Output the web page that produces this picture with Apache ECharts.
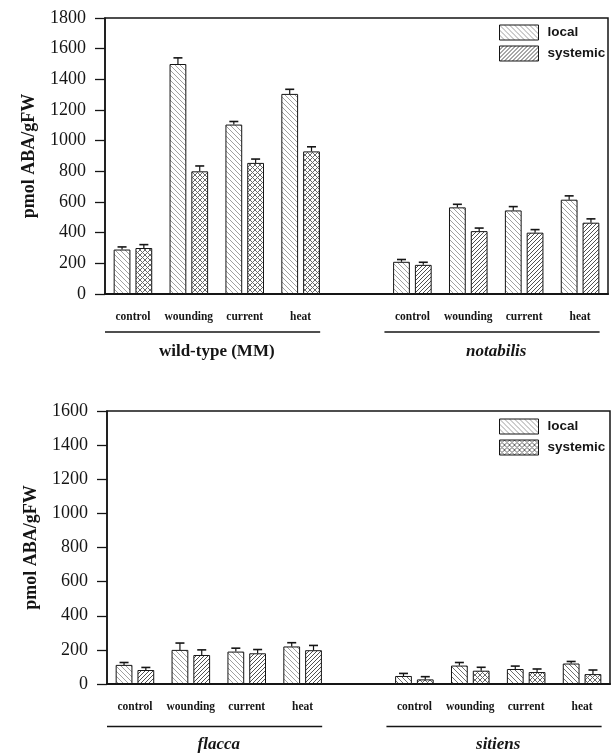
<!DOCTYPE html>
<html>
<head>
<meta charset="utf-8">
<script src="https://cdn.jsdelivr.net/npm/echarts@6/dist/echarts.min.js"></script>
<style>
html,body{margin:0;padding:0;background:#fff;}
#chart{width:616px;height:753px;}
</style>
</head>
<body>
<div id="chart"></div>
<script>
// ---------- data ----------
const categories = ['control', 'wounding', 'current', 'heat', '', 'control', 'wounding', 'current', 'heat'];
const topGroups = ['wild-type (MM)', 'notabilis'];
const bottomGroups = ['flacca', 'sitiens'];
const groupRanges = [[0, 3], [5, 8]];
const seriesNames = ['local', 'systemic'];

const topLocal       = [290, 1500, 1105, 1305, null, 210, 565, 545, 615];
const topLocalErr    = [17, 40, 20, 30, null, 15, 20, 25, 25];
const topSystemic    = [300, 800, 855, 930, null, 190, 410, 400, 465];
const topSystemicErr = [22, 35, 25, 30, null, 17, 20, 20, 25];

const bottomLocal       = [112, 200, 190, 220, null, 47, 108, 88, 120];
const bottomLocalErr    = [14, 40, 20, 22, null, 15, 18, 17, 12];
const bottomSystemic    = [82, 170, 180, 198, null, 27, 78, 70, 58];
const bottomSystemicErr = [15, 30, 22, 28, null, 16, 20, 18, 24];

const topYTicks = [0, 1800, 200];     // min, max, interval
const bottomYTicks = [0, 1600, 200];

// ---------- styles ----------
const SERIF = '"Liberation Serif", "DejaVu Serif", serif';
const SANS = '"Liberation Sans", Arial, sans-serif';
const INK = '#151515';

function hatch(kind, s, color, lw) {
  const c = document.createElement('canvas');
  c.width = s; c.height = s;
  const ctx = c.getContext('2d');
  ctx.fillStyle = '#ffffff';
  ctx.fillRect(0, 0, s, s);
  ctx.strokeStyle = color;
  ctx.lineWidth = lw;
  for (let k = -1; k <= 1; k++) {
    if (kind === 'back' || kind === 'cross') {
      ctx.beginPath(); ctx.moveTo(k * s, 0); ctx.lineTo(k * s + s, s); ctx.stroke();
    }
    if (kind === 'fwd' || kind === 'cross') {
      ctx.beginPath(); ctx.moveTo(k * s, s); ctx.lineTo(k * s + s, 0); ctx.stroke();
    }
  }
  return { image: c, repeat: 'repeat' };
}
const patLocal = hatch('back', 5, '#a0a0a0', 1);
const patLocalDark = hatch('back', 5, '#707070', 1);
const patDiag = hatch('fwd', 4, '#505050', 1);
const patCross = hatch('cross', 5, '#6a6a6a', 1);

const italicGroups = new Set(['notabilis', 'flacca', 'sitiens']);

// ---------- helpers ----------
function barSeries(name, values, gi, colorFn, seriesColor) {
  return {
    type: 'bar', name: name, xAxisIndex: gi, yAxisIndex: gi,
    barWidth: '30%', barGap: '30%',
    itemStyle: { color: seriesColor, borderColor: INK, borderWidth: 1 },
    data: values.map((v, i) => ({ value: v, itemStyle: { color: colorFn(i) } })),
    z: 2
  };
}

function errSeries(gi, local, localErr, sys, sysErr) {
  const d = [];
  local.forEach((v, i) => { if (v != null) d.push([i, v, localErr[i], 0]); });
  sys.forEach((v, i) => { if (v != null) d.push([i, v, sysErr[i], 1]); });
  return {
    type: 'custom', xAxisIndex: gi, yAxisIndex: gi, silent: true, z: 3,
    encode: { x: 0, y: 1 },
    data: d,
    renderItem: function (params, api) {
      const idx = api.value(0), v = api.value(1), e = api.value(2), which = api.value(3);
      const band = api.size([1, 0])[0];
      const barW = band * 0.3;
      const off = (barW * 1.3) / 2 * (which ? 1 : -1);
      const p0 = api.coord([idx, v]);
      const p1 = api.coord([idx, v + e]);
      const x = p0[0] + off;
      const cap = 4.5;
      return {
        type: 'group',
        children: [
          { type: 'line', shape: { x1: x, y1: p0[1], x2: x, y2: p1[1] }, style: { stroke: INK, lineWidth: 1.2 } },
          { type: 'line', shape: { x1: x - cap, y1: p1[1], x2: x + cap, y2: p1[1] }, style: { stroke: INK, lineWidth: 1.6 } }
        ]
      };
    }
  };
}

function groupSeries(gi, names, lineOff, labelOff) {
  return {
    type: 'custom', xAxisIndex: gi, yAxisIndex: gi, silent: true, clip: false,
    encode: { x: [0, 1], y: 2 },
    data: groupRanges.map(r => [r[0], r[1], 0]),
    renderItem: function (params, api) {
      const a = api.coord([api.value(0), 0]);
      const b = api.coord([api.value(1), 0]);
      const band = api.size([1, 0])[0];
      const y0 = a[1];
      const name = names[params.dataIndex];
      return {
        type: 'group',
        children: [
          { type: 'line', shape: { x1: a[0] - band * 0.5, y1: y0 + lineOff, x2: b[0] + band * 0.35, y2: y0 + lineOff },
            style: { stroke: INK, lineWidth: 1.5 } },
          { type: 'text', x: (a[0] + b[0]) / 2, y: y0 + labelOff,
            style: { text: name, fontFamily: SERIF, fontSize: 17, fontWeight: 'bold',
              fontStyle: italicGroups.has(name) ? 'italic' : 'normal',
              align: 'center', verticalAlign: 'middle', fill: INK } }
        ]
      };
    }
  };
}

function xAxis(gi) {
  return {
    type: 'category', gridIndex: gi, data: categories,
    axisLine: { lineStyle: { color: INK, width: 2 } },
    axisTick: { alignWithLabel: true, interval: 0, length: 9, lineStyle: { color: INK, width: 1.3 } },
    axisLabel: { interval: 0, margin: 17, color: INK, fontFamily: SERIF, fontWeight: 'bold', fontSize: 11.5 },
    splitLine: { show: false }
  };
}
function yAxis(gi, ticks) {
  return {
    type: 'value', gridIndex: gi, min: ticks[0], max: ticks[1], interval: ticks[2],
    name: 'pmol ABA/gFW', nameLocation: 'middle', nameGap: 67,
    nameTextStyle: { fontFamily: SERIF, fontWeight: 'bold', fontSize: 18, color: INK },
    axisLine: { show: true, lineStyle: { color: INK, width: 1.5 } },
    axisTick: { show: true, length: 10, lineStyle: { color: INK, width: 1.3 } },
    axisLabel: { margin: 19, color: INK, fontFamily: SERIF, fontSize: 18, formatter: v => String(v) },
    splitLine: { show: false }
  };
}
function legend(top, sysPattern) {
  return {
    orient: 'vertical', left: 499, top: top, padding: 0, itemGap: 5,
    icon: 'rect', itemWidth: 39, itemHeight: 15,
    itemStyle: { borderColor: INK, borderWidth: 1 },
    textStyle: { fontFamily: SANS, fontSize: 13.5, fontWeight: 'bold', color: INK, lineHeight: 16, padding: [0, 0, 0, 4] },
    selectedMode: false,
    data: [
      { name: seriesNames[0], itemStyle: { color: patLocal, borderColor: INK, borderWidth: 1 } },
      { name: seriesNames[1], itemStyle: { color: sysPattern, borderColor: INK, borderWidth: 1 } }
    ]
  };
}

const chart = echarts.init(document.getElementById('chart'), null, { renderer: 'canvas' });
chart.setOption({
  animation: false,
  backgroundColor: '#ffffff',
  grid: [
    { left: 105, top: 18, width: 503, height: 276, show: true, borderColor: INK, borderWidth: 1.5, backgroundColor: 'transparent' },
    { left: 107, top: 411, width: 503, height: 273, show: true, borderColor: INK, borderWidth: 1.5, backgroundColor: 'transparent' }
  ],
  legend: [legend(24.5, patDiag), legend(418.5, patCross)],
  xAxis: [xAxis(0), xAxis(1)],
  yAxis: [yAxis(0, topYTicks), yAxis(1, bottomYTicks)],
  series: [
    barSeries(seriesNames[0], topLocal, 0, i => patLocal, patLocal),
    barSeries(seriesNames[1], topSystemic, 0, i => (i < 4 ? patCross : patDiag), patDiag),
    errSeries(0, topLocal, topLocalErr, topSystemic, topSystemicErr),
    groupSeries(0, topGroups, 38, 58),
    barSeries(seriesNames[0], bottomLocal, 1, i => (i < 4 ? patLocal : patLocalDark), patLocal),
    barSeries(seriesNames[1], bottomSystemic, 1, i => (i < 4 ? patDiag : patCross), patCross),
    errSeries(1, bottomLocal, bottomLocalErr, bottomSystemic, bottomSystemicErr),
    groupSeries(1, bottomGroups, 42.5, 61)
  ]
});
</script>
</body>
</html>
